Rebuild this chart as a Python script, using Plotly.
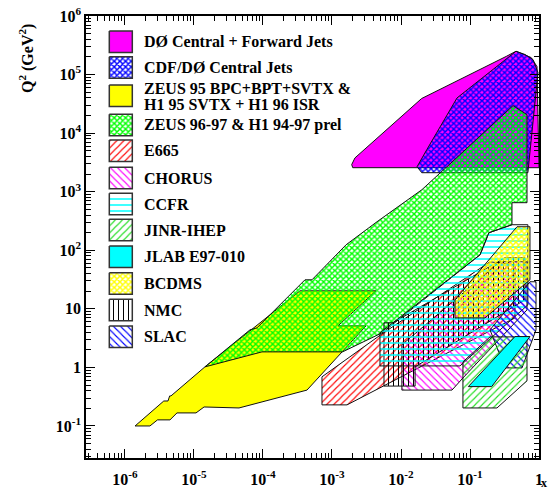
import plotly.graph_objects as go

# ---------------- kinematic coverage regions: polygon vertices (x, Q^2 in GeV^2) ----------------
d0_x = [2.0e-3, 1.93e-3, 2.15e-3, 1.99e-2, 0.34, 0.464, 0.77, 0.935, 1.0]
d0_q2 = [2.57e3, 2.9e3, 3.77e3, 3.9e4, 2.06e5, 2.5e5, 1.95e5, 1.37e5, 2.57e3]

cdf_x = [1.71e-2, 2.0e-2, 0.69, 0.967, 0.82, 0.627, 0.464, 6.48e-2, 2.36e-2]
cdf_q2 = [2.67e3, 2.11e3, 2.11e3, 1.08e5, 1.8e5, 2.2e5, 2.5e5, 3.99e4, 5.2e3]

zeus95_x = [1.40e-6, 2.30e-6, 2.96e-6, 4.49e-6, 5.67e-6, 1.07e-5, 1.40e-5, 4.49e-5, 4.34e-4,
            1.42e-3, 3.11e-3, 1.22e-3, 4.34e-3, 3.44e-4, 1.44e-5, 4.64e-6, 4.44e-6, 4.20e-6, 3.65e-6]
zeus95_q2 = [0.1, 0.1, 0.127, 0.127, 0.167, 0.167, 0.211, 0.203, 0.41,
             1.84, 5.12, 5.12, 20.3, 20.3, 1.02, 0.326, 0.326, 0.267, 0.267]

zeus96_x = [1.44e-5, 6.48e-5, 8.18e-5, 4.06e-4, 5.13e-4, 1.60e-3, 4.49e-3, 2.01e-2, 4.64e-2,
            0.42, 0.67, 0.67, 0.406, 0.406, 0.188, 0.14, 5.31e-3, 1.42e-3, 9.67e-5]
zeus96_q2 = [1.02, 4.38, 4.73, 31.3, 31.3, 124, 307, 1082, 2675,
             2.95e4, 2.07e4, 649, 649, 273, 199, 83.8, 3.89, 1.84, 1.84]

e665_x = [7.16e-4, 7.16e-4, 1.65e-3, 0.449, 0.449, 0.195, 5.31e-3]
e665_q2 = [0.69, 0.229, 0.229, 7.0, 56.5, 63.6, 3.74]

chorus_x = [1.03e-2, 1.03e-2, 0.0548, 0.079, 0.67, 0.67, 0.272]
chorus_q2 = [2.43, 0.41, 0.41, 0.66, 9.6, 63.6, 63.6]

ccfr_x = [4.96e-3, 4.96e-3, 0.0716, 0.69, 0.69, 0.406, 0.188, 0.14]
ccfr_q2 = [3.89, 1.06, 1.06, 11.7, 273, 273, 199, 83.8]

jinr_x = [0.079, 0.246, 0.67, 0.67, 0.195, 0.079]
jinr_q2 = [0.203, 0.203, 0.59, 3.32, 3.32, 1.24]

jlab_x = [0.0945, 0.206, 0.74, 0.449]
jlab_q2 = [0.47, 0.47, 3.36, 3.36]

bcdms_x = [0.0606, 0.165, 0.74, 0.74, 0.48, 0.0606]
bcdms_q2 = [7.0, 7.0, 31.3, 252, 252, 14.3]

nmc_x = [5.67e-3, 5.67e-3, 1.6e-2, 1.6e-2, 0.627, 0.627, 0.32, 7.66e-3]
nmc_q2 = [5.77, 0.48, 0.48, 1.02, 14.3, 74.5, 74.5, 5.77]

slac_x = [0.32, 0.567, 0.905, 0.905, 0.74, 0.195]
slac_q2 = [0.98, 0.98, 4.38, 29.0, 29.0, 4.38]

# ---------------- legend entries and axis ticks ----------------
legend_labels = [
    "DØ Central + Forward Jets",
    "CDF/DØ Central Jets",
    "ZEUS 95 BPC+BPT+SVTX &\nH1 95 SVTX + H1 96 ISR",
    "ZEUS 96-97 & H1 94-97 prel",
    "E665", "CHORUS", "CCFR", "JINR-IHEP", "JLAB E97-010", "BCDMS", "NMC", "SLAC",
]

x_tick_vals = [1e-6, 1e-5, 1e-4, 1e-3, 1e-2, 1e-1, 1]
x_tick_text = ["10<sup>-6</sup>", "10<sup>-5</sup>", "10<sup>-4</sup>", "10<sup>-3</sup>",
               "10<sup>-2</sup>", "10<sup>-1</sup>", "1"]
y_tick_vals = [1e-1, 1, 10, 1e2, 1e3, 1e4, 1e5, 1e6]
y_tick_text = ["10<sup>-1</sup>", "1", "10", "10<sup>2</sup>", "10<sup>3</sup>",
               "10<sup>4</sup>", "10<sup>5</sup>", "10<sup>6</sup>"]

# ---------------- styles ----------------
FONT = "Liberation Serif"
MAG, BLUE, YEL, GRN, RED, CYAN = "#ff00ff", "#0000ff", "#ffff00", "#00ff00", "#ff0000", "#00ffff"

# (solid colour) or (pattern colour, shape, size, solidity)
styles = {
    "d0": ("solid", MAG),
    "cdf": ("pattern", BLUE, "x", 4, 0.6),
    "zeus95": ("solid", YEL),
    "zeus96": ("pattern", GRN, "x", 4, 0.6),
    "e665": ("pattern", RED, "/", 5, 0.22),
    "chorus": ("pattern", MAG, "\\", 5, 0.22),
    "ccfr": ("pattern", CYAN, "-", 6, 0.25),
    "jinr": ("pattern", "#22dd22", "/", 5, 0.22),
    "jlab": ("solid", CYAN),
    "bcdms": ("pattern", YEL, "x", 4, 0.6),
    "nmc": ("pattern", "#000000", "|", 5, 0.2),
    "slac": ("pattern", BLUE, "\\", 5, 0.22),
}
legend_keys = ["d0", "cdf", "zeus95", "zeus96", "e665", "chorus", "ccfr",
               "jinr", "jlab", "bcdms", "nmc", "slac"]


def fill_kwargs(key):
    st = styles[key]
    if st[0] == "solid":
        return dict(fillcolor=st[1])
    _, col, shape, size, sol = st
    return dict(fillcolor=col,
                fillpattern=dict(shape=shape, fgcolor=col, bgcolor="rgba(0,0,0,0)",
                                 size=size, solidity=sol, fillmode="replace"))


def closed(v):
    return list(v) + [v[0]]


fig = go.Figure()

# drawing order: back to front
regions = [
    ("zeus95", zeus95_x, zeus95_q2),
    ("d0", d0_x, d0_q2),
    ("cdf", cdf_x, cdf_q2),
    ("zeus96", zeus96_x, zeus96_q2),
    ("e665", e665_x, e665_q2),
    ("chorus", chorus_x, chorus_q2),
    ("nmc", nmc_x, nmc_q2),
    ("ccfr", ccfr_x, ccfr_q2),
    ("bcdms", bcdms_x, bcdms_q2),
    ("slac", slac_x, slac_q2),
    ("jinr", jinr_x, jinr_q2),
    ("jlab", jlab_x, jlab_q2),
]
for key, xs, qs in regions:
    fig.add_trace(go.Scatter(x=closed(xs), y=closed(qs), mode="lines", fill="toself",
                             line=dict(color="#111111", width=1), showlegend=False,
                             hoverinfo="skip", **fill_kwargs(key)))

# ---------------- legend drawn on an overlaid unit frame ----------------
W, H = 549, 489
ML, MR, MT, MB = 86, 10, 16, 31
PW, PH = W - ML - MR, H - MT - MB


def fx(px):
    return (px - ML) / PW


def fy(py):
    return (H - MB - py) / PH


box_left, box_right, box_h = 109.3, 132.3, 21.5
box_tops = [31, 56.7, 85, 114.3, 140, 167.3, 193.3, 219.3, 246, 272.7, 299.3, 326]
text_x = 141.7

annotations = []
for key, label, top in zip(legend_keys, legend_labels, box_tops):
    bx = [fx(box_left), fx(box_right), fx(box_right), fx(box_left), fx(box_left)]
    by = [fy(top), fy(top), fy(top + box_h), fy(top + box_h), fy(top)]
    fig.add_trace(go.Scatter(x=bx, y=by, xaxis="x2", yaxis="y2", mode="lines", fill="toself",
                             line=dict(color="#333333", width=1.5), showlegend=False,
                             hoverinfo="skip", **fill_kwargs(key)))
    lines = label.split("\n")
    centre = top + box_h / 2
    offsets = [0] if len(lines) == 1 else [-7.5, 8.5]
    for line, off in zip(lines, offsets):
        annotations.append(dict(x=fx(text_x), y=fy(centre + off), xref="paper", yref="paper",
                                text=line, showarrow=False, xanchor="left", yanchor="middle",
                                font=dict(family=FONT, size=16, color="black", weight="bold")))

annotations.append(dict(x=fx(27), y=fy(59), xref="paper", yref="paper",
                        text="Q<sup>2</sup> (GeV<sup>2</sup>)", textangle=-90, showarrow=False,
                        xanchor="center", yanchor="middle",
                        font=dict(family=FONT, size=16, color="black", weight="bold")))
annotations.append(dict(x=fx(548), y=fy(483), xref="paper", yref="paper", text="x",
                        showarrow=False, xanchor="right", yanchor="middle", borderpad=0,
                        font=dict(family=FONT, size=12, color="black", weight="bold")))

x_minor = [k * 10.0 ** n for n in range(-7, 0) for k in range(2, 10) if 2.8e-7 < k * 10.0 ** n < 1]
y_minor = [k * 10.0 ** n for n in range(-2, 6) for k in range(2, 10) if 0.029 < k * 10.0 ** n < 1e6]

tick_font = dict(family=FONT, size=16, color="black", weight="bold")
axis_common = dict(type="log", showgrid=False, zeroline=False, showline=True, linecolor="black",
                   linewidth=1.5, mirror="allticks", ticks="inside", ticklen=9, tickwidth=1,
                   tickcolor="black", tickfont=tick_font, tickmode="array", automargin=False)

fig.update_layout(
    width=W, height=H,
    margin=dict(l=ML, r=MR, t=MT, b=MB, pad=0, autoexpand=False),
    paper_bgcolor="white", plot_bgcolor="white",
    xaxis=dict(range=[-6.565, 0], tickvals=x_tick_vals, ticktext=x_tick_text,
               ticklabelstandoff=6,
               minor=dict(tickmode="array", tickvals=x_minor, ticks="inside", ticklen=5,
                          tickwidth=1, tickcolor="black", showgrid=False),
               **axis_common),
    yaxis=dict(range=[-1.547, 6], tickvals=y_tick_vals, ticktext=y_tick_text,
               minor=dict(tickmode="array", tickvals=y_minor, ticks="inside", ticklen=5,
                          tickwidth=1, tickcolor="black", showgrid=False),
               **axis_common),
    xaxis2=dict(overlaying="x", range=[0, 1], visible=False, fixedrange=True),
    yaxis2=dict(overlaying="y", range=[0, 1], visible=False, fixedrange=True),
    annotations=annotations,
    showlegend=False,
)

fig.write_html("out.html")
